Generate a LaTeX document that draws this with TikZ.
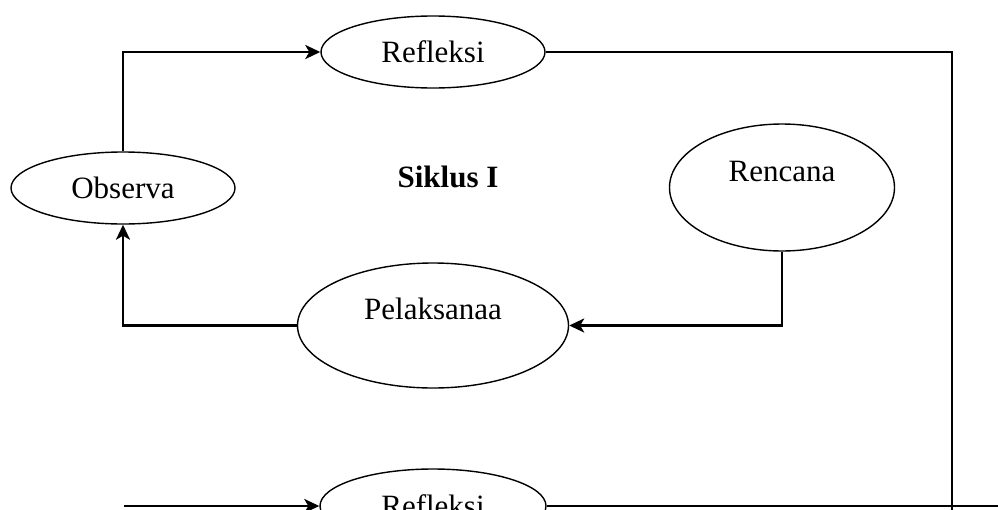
\documentclass[tikz,border=0pt]{standalone}
\usepackage{fontspec}
\setmainfont{Liberation Serif}
\usetikzlibrary{shapes.geometric,arrows.meta}
\begin{document}
\begin{tikzpicture}[x=1pt,y=-1pt,
  txt/.style={font=\fontsize{31}{37}\selectfont},
  ell/.style={draw, ellipse, line width=1.4pt, inner sep=0pt, txt},
  conn/.style={line width=2.6pt},
  arr/.style={conn, -{Stealth[length=15pt,width=14pt,inset=4pt]}}]
\useasboundingbox (0,0) rectangle (998,509);
\clip (0,0) rectangle (998,509);
\node[ell, minimum width=224pt, minimum height=72pt] (ref1) at (433,52) {Refleksi};
\node[ell, minimum width=224pt, minimum height=72pt] (obs) at (123,188) {Observa};
\node[txt, font=\fontsize{31}{37}\selectfont\bfseries] (sik) at (448,177) {Siklus I};
\node[ell, minimum width=225pt, minimum height=127pt,
  label={[txt, yshift=16pt]center:Rencana}] (ren) at (782,187.5) {};
\node[ell, minimum width=271pt, minimum height=125pt,
  label={[txt, yshift=17pt]center:Pelaksanaa}] (pel) at (433,325.5) {};
\node[ell, minimum width=226pt, minimum height=74pt] (ref2) at (433,506) {Refleksi};
\coordinate (rb) at (952,515);
\coordinate (bl) at (124,506);
\coordinate (br) at (1005,506);
\draw[arr] (obs.north) |- (ref1.west);
\draw[conn] (ref1.east) -| (rb);
\draw[arr] (ren.south) |- (pel.east);
\draw[arr] (pel.west) -| (obs.south);
\draw[arr] (bl) -- (ref2.west);
\draw[conn] (ref2.east) -- (br);
\end{tikzpicture}
\end{document}
